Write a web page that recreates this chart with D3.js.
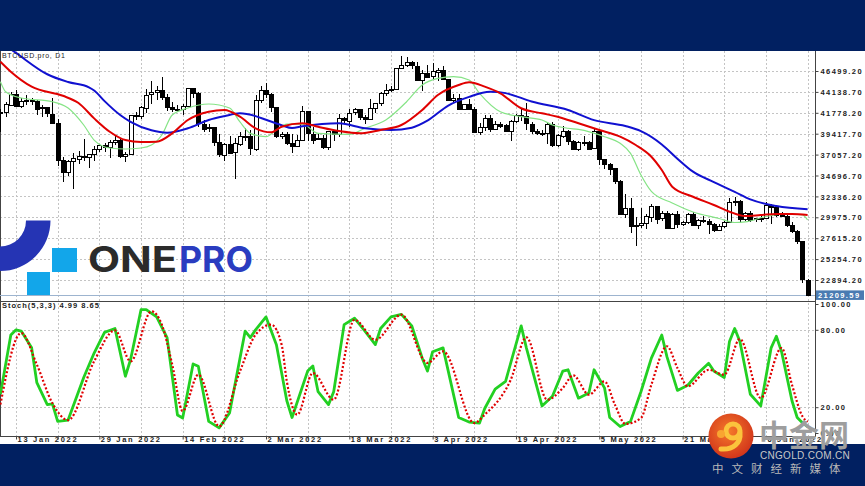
<!DOCTYPE html>
<html>
<head>
<meta charset="utf-8">
<script src="https://cdn.jsdelivr.net/npm/d3@7"></script>
<style>
  html, body { margin: 0; padding: 0; background: #012061; }
  svg { display: block; }
</style>
</head>
<body>
<div id="chart"></div>
<script>
// ---- data (BTCUSD.pro, D1, 10 Jan 2022 -> 14 Jun 2022, one bar per day) ----
const firstDay = "2022-01-10";

const opens = [
  41910,41820,42735,43950,42590,43100,43180,43110,42250,42380,
  41680,40680,36450,35050,36280,36650,36950,36850,37140,37710,
  38170,37900,38480,38740,36950,37150,41500,41440,42410,43840,
  44120,44340,43570,42410,42240,42200,42590,44580,43960,40540,
  40030,40120,38430,37070,38290,37300,38330,39210,39110,37700,
  43190,44350,43920,42460,39140,39400,38420,38060,38740,41980,
  39440,38790,38900,37850,39670,39280,41140,40950,41800,42190,
  41250,41080,42360,42880,43960,44350,44500,46820,47130,47460,
  47070,45540,46280,45870,46450,46620,45560,43210,43440,42250,
  42760,42160,39530,40130,41170,39940,40550,40380,39680,40800,
  41500,41370,40530,39740,39480,39470,40460,38120,39240,39770,
  38610,37710,38470,38530,37750,39700,36580,36040,35500,34060,
  30300,31020,28940,29050,29280,30100,31300,29860,30420,28720,
  30310,29200,29430,30320,29100,29650,29560,29270,28630,29030,
  29460,31730,31800,29800,30450,29700,29860,29910,31370,31130,
  30210,30110,29080,28380,27250,22950];
const highs = [
  42200,43000,44135,44300,43440,43750,43480,43170,42650,42480,
  43450,41100,36840,36400,37240,37480,38830,37150,38000,38300,
  38330,38680,39120,38850,37370,41530,41890,42570,44480,45330,
  44800,45820,43900,43000,42700,42800,44600,44580,44160,40940,
  40460,40130,39400,38400,39170,38970,39660,40080,39810,43760,
  44790,45130,44040,42480,39580,39650,39430,39320,42600,42000,
  40170,39330,39220,39770,39870,41640,41270,42230,42370,42220,
  41520,43330,42880,44120,45050,44790,46850,48190,48100,47670,
  47570,46640,47190,47400,46870,47110,45560,43860,43900,42800,
  43390,42400,40600,41530,41490,40820,40700,40560,41020,41670,
  42200,42880,40780,39920,39860,40600,40780,39420,40320,39890,
  38760,38630,39130,38630,39900,39800,36600,36110,35500,34240,
  32590,32160,30030,31000,30300,31440,31300,30690,30640,30480,
  30660,29590,30420,30630,29760,30130,29830,29360,29170,29550,
  32170,32250,31960,30600,30650,29940,30150,31690,31530,31310,
  30620,30360,29400,28540,27300,23000];
const lows = [
  39650,41260,42530,42450,42310,42650,42700,41550,41300,41250,
  40620,35790,34010,34640,33180,35960,36300,35600,36280,37380,
  37400,36690,38100,36630,36250,37050,40990,41110,41700,42740,
  43200,43250,42020,41870,41900,41570,42430,43470,40160,39640,
  39660,38070,36820,36390,37300,34320,38050,38570,37060,37500,
  42870,43480,41900,38930,38800,38180,37260,38020,38740,38620,
  38280,38690,37730,37600,38600,39000,40550,40220,41490,40940,
  40550,40990,41760,42580,43620,44140,44420,46680,46930,46700,
  45500,44260,45950,45620,45350,45520,43120,43000,42130,42130,
  42070,39530,39290,39760,39600,39800,40040,39580,38560,40580,
  40880,39800,39330,39320,39200,38240,37900,37880,38910,38180,
  37600,37430,38050,37530,37650,35860,35380,34780,33700,30300,
  29880,28170,26700,28750,28680,29500,29200,29600,28700,28700,
  28770,29000,29250,29000,28700,29350,28050,28320,28500,28810,
  29330,31240,29330,29600,29400,29480,29500,29900,29220,29970,
  30000,28920,28200,27000,22600,21050];
const closes = [
  41820,42735,43950,42590,43100,43180,43110,42250,42380,41680,
  40680,36450,35050,36280,36650,36950,36850,37140,37710,38170,
  37900,38480,38740,36950,37150,41500,41440,42410,43840,44120,
  44340,43570,42410,42240,42200,42590,44580,43960,40540,40030,
  40120,38430,37070,38290,37300,38330,39210,39110,37700,43190,
  44350,43920,42460,39140,39400,38420,38060,38740,41980,39440,
  38790,38900,37850,39670,39280,41140,40950,41800,42190,41250,
  41080,42360,42880,43960,44350,44500,46820,47130,47460,47070,
  45540,46280,45870,46450,46620,45560,43210,43440,42250,42760,
  42160,39530,40130,41170,39940,40550,40380,39680,40800,41500,
  41370,40530,39740,39480,39470,40460,38120,39240,39770,38610,
  37710,38470,38530,37750,39700,36580,36040,35500,34060,30300,
  31020,28940,29050,29280,30100,31300,29860,30420,28720,30310,
  29200,29430,30320,29100,29650,29560,29270,28630,29030,29460,
  31730,31800,29800,30450,29700,29860,29910,31370,31130,30210,
  30110,29080,28380,27250,22950,21209.59];

const lastPrice = 21209.59;

// moving averages as [date, price] vertices
const maFast = [["2022-01-10",45290],["2022-01-11",44160],["2022-01-14",43450],["2022-01-20",43030],["2022-01-23",42320],["2022-01-26",40400],["2022-01-28",38700],["2022-01-31",37800],["2022-02-03",37690],["2022-02-06",37800],["2022-02-08",38140],["2022-02-10",39270],["2022-02-12",41530],["2022-02-15",42320],["2022-02-19",42770],["2022-02-23",42320],["2022-02-25",40740],["2022-02-27",39460],["2022-03-02",39080],["2022-03-04",39830],["2022-03-06",40500],["2022-03-09",40500],["2022-03-12",39460],["2022-03-18",39350],["2022-03-21",40030],["2022-03-25",40965],["2022-03-29",43030],["2022-04-01",44920],["2022-04-04",45670],["2022-04-07",45860],["2022-04-10",45480],["2022-04-12",43980],["2022-04-16",41900],["2022-04-20",41340],["2022-04-24",40965],["2022-04-26",40400],["2022-04-29",40030],["2022-05-01",39910],["2022-05-06",39080],["2022-05-09",38330],["2022-05-11",37200],["2022-05-13",34750],["2022-05-15",32900],["2022-05-19",31590],["2022-05-23",30580],["2022-05-28",29840],["2022-05-31",29390],["2022-06-02",29450],["2022-06-06",30070],["2022-06-10",30350],["2022-06-13",30240],["2022-06-14",29670]];
const maMid = [["2022-01-10",47550],["2022-01-12",46420],["2022-01-16",44730],["2022-01-22",43700],["2022-01-25",42880],["2022-01-28",41150],["2022-01-31",39640],["2022-02-03",38700],["2022-02-06",38480],["2022-02-09",38510],["2022-02-12",39460],["2022-02-15",40965],["2022-02-19",41900],["2022-02-22",42100],["2022-02-25",41340],["2022-02-28",40030],["2022-03-03",39580],["2022-03-05",40200],["2022-03-09",40600],["2022-03-12",40200],["2022-03-16",39720],["2022-03-20",39460],["2022-03-24",39840],["2022-03-28",40400],["2022-04-01",42100],["2022-04-04",43790],["2022-04-08",44920],["2022-04-10",45220],["2022-04-13",44730],["2022-04-16",43980],["2022-04-20",42290],["2022-04-24",41720],["2022-04-27",41340],["2022-05-01",40590],["2022-05-05",39840],["2022-05-09",39080],["2022-05-12",38140],["2022-05-15",36820],["2022-05-17",35320],["2022-05-19",33430],["2022-05-23",32300],["2022-05-27",31370],["2022-05-30",30610],["2022-06-02",30120],["2022-06-05",30230],["2022-06-08",30350],["2022-06-11",30350],["2022-06-14",30230]];
const maSlow = [["2022-01-10",49780],["2022-01-13",48540],["2022-01-19",46130],["2022-01-23",45250],["2022-01-27",44650],["2022-01-28",44300],["2022-01-30",43100],["2022-02-02",41530],["2022-02-04",40750],["2022-02-08",39800],["2022-02-11",39530],["2022-02-15",40030],["2022-02-19",40970],["2022-02-22",41400],["2022-02-25",41720],["2022-02-28",41400],["2022-03-02",40990],["2022-03-05",40380],["2022-03-07",40060],["2022-03-09",40250],["2022-03-16",40590],["2022-03-21",40030],["2022-03-26",39840],["2022-03-30",40100],["2022-04-02",40900],["2022-04-06",42600],["2022-04-10",43580],["2022-04-14",44160],["2022-04-17",44000],["2022-04-22",43050],["2022-04-29",42100],["2022-05-04",40950],["2022-05-10",40290],["2022-05-13",39700],["2022-05-17",38200],["2022-05-20",36600],["2022-05-23",35130],["2022-05-27",33950],["2022-05-31",32850],["2022-06-03",32000],["2022-06-08",31250],["2022-06-14",30880]];

// Stoch(5,3,3) as [date, value] vertices
const stochK = [["2022-01-10",30],["2022-01-12",76],["2022-01-13",80],["2022-01-14",79],["2022-01-16",66],["2022-01-17",39],["2022-01-19",22],["2022-01-20",22.5],["2022-01-21",9],["2022-01-23",10],["2022-01-26",43],["2022-01-28",62],["2022-01-29",70],["2022-01-30",78],["2022-02-01",81],["2022-02-03",44],["2022-02-04",57],["2022-02-06",95.6],["2022-02-07",95.6],["2022-02-09",90],["2022-02-11",74],["2022-02-13",14],["2022-02-14",11.6],["2022-02-16",53.5],["2022-02-17",51.7],["2022-02-19",9],["2022-02-21",4],["2022-02-23",15.5],["2022-02-26",79],["2022-02-27",74],["2022-02-28",80],["2022-03-02",90],["2022-03-04",68.5],["2022-03-06",25],["2022-03-07",12],["2022-03-10",48],["2022-03-11",52],["2022-03-12",32],["2022-03-14",22],["2022-03-15",32],["2022-03-17",84],["2022-03-19",89],["2022-03-21",79],["2022-03-23",68.5],["2022-03-24",81],["2022-03-26",90],["2022-03-28",92],["2022-03-30",83],["2022-04-01",58],["2022-04-02",48],["2022-04-03",63],["2022-04-05",66],["2022-04-06",48],["2022-04-08",12],["2022-04-10",8.5],["2022-04-12",7.7],["2022-04-13",19],["2022-04-15",34],["2022-04-17",40],["2022-04-20",83],["2022-04-21",66],["2022-04-24",21],["2022-04-26",28.5],["2022-04-28",48],["2022-04-29",49],["2022-05-01",27],["2022-05-03",31],["2022-05-04",49],["2022-05-06",35],["2022-05-07",12],["2022-05-09",5],["2022-05-11",9],["2022-05-13",32],["2022-05-15",58],["2022-05-17",76],["2022-05-18",59],["2022-05-20",33],["2022-05-22",37],["2022-05-24",46.5],["2022-05-26",54],["2022-05-27",48],["2022-05-29",43],["2022-05-30",71],["2022-05-31",81],["2022-06-01",71],["2022-06-03",30],["2022-06-05",21],["2022-06-07",66],["2022-06-08",75],["2022-06-09",63],["2022-06-11",25],["2022-06-12",12],["2022-06-13",8],["2022-06-14",4.99]];
const stochD = [["2022-01-10",22],["2022-01-14",77.5],["2022-01-17",53],["2022-01-20",23],["2022-01-23",10],["2022-01-28",55.6],["2022-02-01",79.6],["2022-02-04",55.6],["2022-02-08",94.3],["2022-02-10",84],["2022-02-12",53],["2022-02-14",17],["2022-02-17",45.2],["2022-02-21",5.2],["2022-02-25",47.8],["2022-02-28",76.2],["2022-03-03",84],["2022-03-05",68.5],["2022-03-06",40],["2022-03-08",14.2],["2022-03-11",46.5],["2022-03-15",25.8],["2022-03-19",87.8],["2022-03-23",72.3],["2022-03-28",91.7],["2022-04-02",54.3],["2022-04-05",63.3],["2022-04-11",7.7],["2022-04-13",14.2],["2022-04-18",41.3],["2022-04-21",74.2],["2022-04-25",25.8],["2022-04-28",34.9],["2022-04-30",44.7],["2022-05-03",29.7],["2022-05-06",40],["2022-05-08",22],["2022-05-10",7],["2022-05-13",11.6],["2022-05-15",37.4],["2022-05-18",67.2],["2022-05-20",50.4],["2022-05-22",36.2],["2022-05-26",49],["2022-05-29",45.2],["2022-06-01",72.9],["2022-06-05",27.1],["2022-06-09",65.9],["2022-06-11",37.4],["2022-06-13",13],["2022-06-14",8.65]];

const priceTicks = [22894.20, 25254.70, 27615.20, 29975.70, 32336.20, 34696.70, 37057.20, 39417.70, 41778.20, 44138.70, 46499.20];
const stochTicks = [0, 20, 80, 100];
const dateTicks = ["2022-01-13","2022-01-29","2022-02-14","2022-03-02","2022-03-18","2022-04-03","2022-04-19","2022-05-05","2022-05-21","2022-06-06"];

// ---- layout ----
const W = 865, H = 486;
const plotR = 815;
const priceTop = 51, priceBot = 300;
const stochTop = 301, stochBot = 436;
const axisFont = "'Liberation Sans', Arial, sans-serif";

const parse = d3.utcParse("%Y-%m-%d");
const day0 = parse(firstDay);
const bars = closes.map((c, i) => ({
  date: d3.utcDay.offset(day0, i),
  o: opens[i], h: highs[i], l: lows[i], c: c
}));

const x = d3.scaleUtc()
  .domain([bars[0].date, bars[bars.length - 1].date])
  .range([0.4, 807.6]);
const y = d3.scaleLinear().domain([22894.2, 46499.2]).range([280, 71]);
const ys = d3.scaleLinear().domain([0, 100]).range([433, 304]);

const svg = d3.select("#chart").append("svg")
  .attr("width", W).attr("height", H)
  .attr("viewBox", `0 0 ${W} ${H}`);

svg.append("rect").attr("width", W).attr("height", H).attr("fill", "#012061");
svg.append("rect").attr("x", 0).attr("y", priceTop).attr("width", W).attr("height", 393).attr("fill", "#fff");

const defs = svg.append("defs");
defs.append("clipPath").attr("id", "clipPrice")
  .append("rect").attr("x", 0).attr("y", priceTop).attr("width", plotR).attr("height", priceBot - priceTop);
defs.append("clipPath").attr("id", "clipStoch")
  .append("rect").attr("x", 0).attr("y", stochTop).attr("width", plotR).attr("height", stochBot - stochTop);

// grid
const gridDates = [];
dateTicks.forEach(s => { const d = parse(s); gridDates.push(d, d3.utcDay.offset(d, 8)); });

const grid = svg.append("g").attr("stroke", "#c4c4c4").attr("stroke-dasharray", "2,2")
  .attr("shape-rendering", "crispEdges");
grid.selectAll("line.v").data(gridDates).join("line")
  .attr("x1", d => Math.round(x(d)) + 0.5).attr("x2", d => Math.round(x(d)) + 0.5)
  .attr("y1", priceTop).attr("y2", stochBot);
grid.selectAll("line.h").data(priceTicks).join("line")
  .attr("x1", 0).attr("x2", plotR)
  .attr("y1", d => Math.round(y(d)) + 0.5).attr("y2", d => Math.round(y(d)) + 0.5);
grid.selectAll("line.s").data([20, 80]).join("line")
  .attr("x1", 0).attr("x2", plotR)
  .attr("y1", d => Math.round(ys(d)) + 0.5).attr("y2", d => Math.round(ys(d)) + 0.5);

// panel frames
const frame = svg.append("g").attr("fill", "none").attr("stroke", "#444").attr("shape-rendering", "crispEdges");
frame.append("line").attr("x1", 0.5).attr("x2", 0.5).attr("y1", priceTop).attr("y2", stochBot);
frame.append("line").attr("x1", plotR + 0.5).attr("x2", plotR + 0.5).attr("y1", priceTop).attr("y2", stochBot + 1);
frame.append("line").attr("x1", 0).attr("x2", plotR).attr("y1", stochTop + 0.5).attr("y2", stochTop + 0.5);
frame.append("line").attr("x1", 0).attr("x2", plotR).attr("y1", stochBot + 0.5).attr("y2", stochBot + 0.5);

// ONEPRO logo
const logo = svg.append("g");
logo.append("path")
  .attr("transform", "translate(0,220.5)")
  .attr("d", d3.arc().innerRadius(26).outerRadius(50.5).startAngle(Math.PI / 2).endAngle(Math.PI)())
  .attr("fill", "#2534b4");
logo.append("rect").attr("x", 52).attr("y", 248).attr("width", 25).attr("height", 24).attr("fill", "#12a6ea");
logo.append("rect").attr("x", 27).attr("y", 272).attr("width", 23).attr("height", 24).attr("fill", "#12a6ea");
logo.append("text").attr("x", 88).attr("y", 272).attr("textLength", 89).attr("lengthAdjust", "spacingAndGlyphs")
  .attr("font-family", "Inter, 'Open Sans', sans-serif").attr("font-weight", 700).attr("font-size", 35)
  .attr("fill", "#2b2b2b").text("ONE");
logo.append("text").attr("x", 179).attr("y", 272).attr("textLength", 74).attr("lengthAdjust", "spacingAndGlyphs")
  .attr("font-family", "Inter, 'Open Sans', sans-serif").attr("font-weight", 700).attr("font-size", 35)
  .attr("fill", "#2a3cc0").text("PRO");

// current price line
svg.append("line").attr("x1", 0).attr("x2", plotR)
  .attr("y1", Math.round(y(lastPrice)) + 0.5).attr("y2", Math.round(y(lastPrice)) + 0.5)
  .attr("stroke", "#9db4cf").attr("shape-rendering", "crispEdges");

// candles
const candles = svg.append("g").attr("clip-path", "url(#clipPrice)").attr("shape-rendering", "crispEdges");
const bw = 3;
candles.selectAll("line").data(bars).join("line")
  .attr("x1", d => Math.round(x(d.date)) + 0.5).attr("x2", d => Math.round(x(d.date)) + 0.5)
  .attr("y1", d => y(d.h)).attr("y2", d => y(d.l))
  .attr("stroke", "#000");
candles.selectAll("rect").data(bars).join("rect")
  .attr("x", d => Math.round(x(d.date)) - bw / 2 - 0.5 + 0.5)
  .attr("y", d => Math.round(y(Math.max(d.o, d.c))) + 0.5)
  .attr("width", bw + 1)
  .attr("height", d => Math.max(1, Math.round(Math.abs(y(d.o) - y(d.c)))))
  .attr("fill", d => d.c >= d.o ? "#fff" : "#000")
  .attr("stroke", "#000");

// moving averages
const maLine = d3.line().x(d => x(parse(d[0]))).y(d => y(d[1])).curve(d3.curveMonotoneX);
const mas = svg.append("g").attr("clip-path", "url(#clipPrice)").attr("fill", "none");
mas.append("path").attr("d", maLine(maFast)).attr("stroke", "#86e486").attr("stroke-width", 1.2);
mas.append("path").attr("d", maLine(maSlow)).attr("stroke", "#1010d0").attr("stroke-width", 2);
mas.append("path").attr("d", maLine(maMid)).attr("stroke", "#e00000").attr("stroke-width", 2);

// stochastic
const st = svg.append("g").attr("clip-path", "url(#clipStoch)").attr("fill", "none");
st.append("path")
  .attr("d", d3.line().x(d => x(parse(d[0]))).y(d => ys(d[1]))(stochK))
  .attr("stroke", "#22d022").attr("stroke-width", 2.8).attr("stroke-linejoin", "round");
st.append("path")
  .attr("d", d3.line().x(d => x(parse(d[0]))).y(d => ys(d[1])).curve(d3.curveMonotoneX)(stochD))
  .attr("stroke", "#e00000").attr("stroke-width", 2.2).attr("stroke-dasharray", "2,2");

// axes
function styleAxis(g, spacing) {
  g.select(".domain").remove();
  g.selectAll(".tick line").attr("stroke", "#444");
  g.selectAll("text").attr("font-family", axisFont).attr("font-weight", 700)
    .attr("font-size", "7.5px").attr("letter-spacing", spacing).attr("fill", "#222");
}
const gp = svg.append("g").attr("transform", `translate(${plotR + 0.5},0)`)
  .call(d3.axisRight(y).tickValues(priceTicks).tickFormat(d3.format(".2f")).tickSize(3).tickPadding(2));
styleAxis(gp, "1.4px");
gp.selectAll("text").attr("dy", "0.35em");

const gs = svg.append("g").attr("transform", `translate(${plotR + 0.5},0)`)
  .call(d3.axisRight(ys).tickValues(stochTicks).tickFormat(d3.format(".2f")).tickSize(3).tickPadding(2));
styleAxis(gs, "1.4px");
gs.selectAll("text").attr("dy", "0.35em");

const gx = svg.append("g").attr("transform", `translate(0,${stochBot + 0.5})`)
  .call(d3.axisBottom(x).tickValues(gridDates)
    .tickFormat(d => dateTicks.includes(d3.utcFormat("%Y-%m-%d")(d)) ? d3.utcFormat("%-d %b %Y")(d) : "")
    .tickSize(3));
styleAxis(gx, "1.7px");
gx.selectAll("text").attr("text-anchor", "start").attr("x", 1).attr("y", 5.5).attr("dy", null);

// last price tag
const yl = y(lastPrice);
svg.append("rect").attr("x", plotR + 1).attr("y", yl - 4.5).attr("width", 48).attr("height", 9.5).attr("fill", "#4a7bb2");
svg.append("text").attr("x", plotR + 3).attr("y", yl + 3)
  .attr("font-family", axisFont).attr("font-weight", 700).attr("font-size", "7.5px")
  .attr("letter-spacing", "1.4px").attr("fill", "#fff").text(d3.format(".2f")(lastPrice));

// panel captions
svg.append("text").attr("x", 2).attr("y", 57.5)
  .attr("font-family", axisFont).attr("font-size", "7px").attr("letter-spacing", "0.7px").attr("fill", "#222")
  .text("BTCUSD.pro, D1");
svg.append("text").attr("x", 2).attr("y", 307.5)
  .attr("font-family", axisFont).attr("font-weight", 700).attr("font-size", "7.5px").attr("letter-spacing", "1px").attr("fill", "#222")
  .text(`Stoch(5,3,3) ${stochK[stochK.length - 1][1].toFixed(2)} ${stochD[stochD.length - 1][1].toFixed(2)}`);

// cngold watermark
const grad = defs.append("radialGradient").attr("id", "wmGrad").attr("cx", "45%").attr("cy", "40%").attr("r", "60%");
grad.append("stop").attr("offset", "0%").attr("stop-color", "#f57a2a");
grad.append("stop").attr("offset", "100%").attr("stop-color", "#d2361b");
const wm = svg.append("g");
wm.append("circle").attr("cx", 731).attr("cy", 436).attr("r", 22.5).attr("fill", "url(#wmGrad)");
wm.append("circle").attr("cx", 733).attr("cy", 431).attr("r", 7).attr("fill", "none")
  .attr("stroke", "#fbc33c").attr("stroke-width", 5);
wm.append("path").attr("d", "M740,433 C741,443 733,450 721,449")
  .attr("fill", "none").attr("stroke", "#fbc33c").attr("stroke-width", 5).attr("stroke-linecap", "round");
wm.append("circle").attr("cx", 721).attr("cy", 434).attr("r", 4).attr("fill", "#f9a531");
wm.append("text").attr("x", 759).attr("y", 446)
  .attr("font-family", "'Noto Sans CJK SC', sans-serif").attr("font-weight", 700).attr("font-size", 30)
  .attr("fill", "#9e9e9e").text("中金网");
wm.append("text").attr("x", 760).attr("y", 458.5)
  .attr("font-family", axisFont).attr("font-size", "10px").attr("letter-spacing", "0.3px")
  .attr("fill", "#c8c8c8").text("CNGOLD.COM.CN");
wm.append("text").attr("x", 712).attr("y", 472.5)
  .attr("font-family", "'Noto Sans CJK SC', sans-serif").attr("font-size", "11.5px").attr("letter-spacing", "8px")
  .attr("fill", "#b8b8b8").text("中文财经新媒体");
</script>
</body>
</html>
